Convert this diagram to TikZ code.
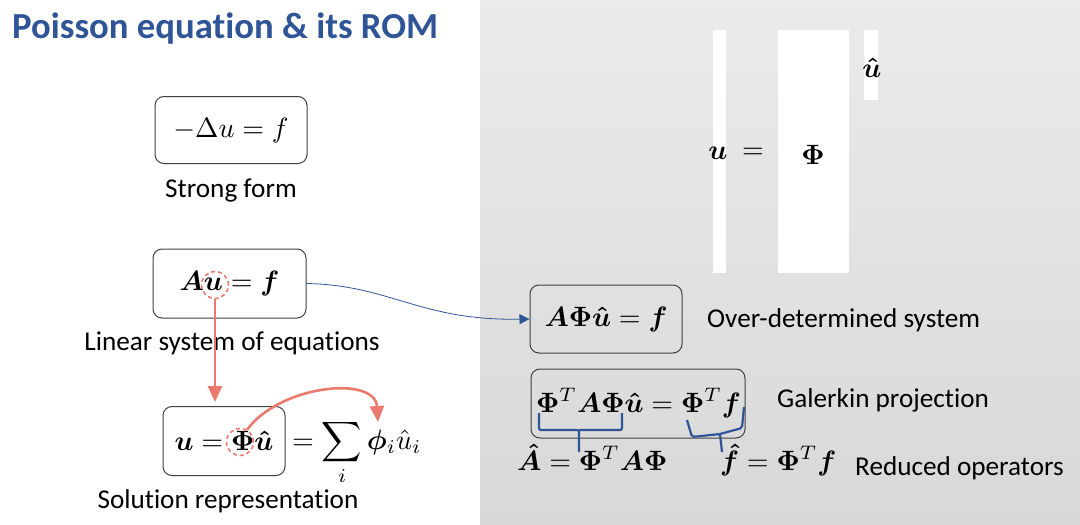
\documentclass[tikz,border=0pt]{standalone}
\usepackage{amsmath}
\usepackage{bm}
\usepackage{graphicx}
\usepackage[no-math]{fontspec}
\setmainfont{Carlito}[Ligatures=NoCommon]
\usetikzlibrary{arrows.meta}
\definecolor{romblue}{HTML}{2F5597}
\definecolor{romred}{HTML}{EB7A6E}
\definecolor{romgray}{HTML}{404040}
\definecolor{paneltop}{HTML}{EBEBEB}
\definecolor{panelbot}{HTML}{D8D8D8}
\newcommand{\eqs}[1]{\scalebox{2.8}{$#1$}}
\newcommand{\txtsize}{\fontsize{27.2}{32}\selectfont}
\tikzset{
  eqbox/.style   ={rectangle, rounded corners=9pt, draw=romgray, line width=1pt, inner sep=0pt},
  eqtxt/.style   ={inner sep=0pt},
  txt/.style     ={font=\txtsize, inner sep=0pt},
  col/.style     ={rectangle, fill=white, inner sep=0pt},
  hilite/.style  ={circle, draw=romred, dash pattern=on 4pt off 3pt, line width=1.6pt,
                   minimum size=27pt, inner sep=0pt},
  redflow/.style ={-{Triangle[length=16pt, width=14pt]}, draw=romred, line width=2.6pt},
  blueflow/.style={-{Triangle[length=10pt, width=10pt]}, draw=romblue, line width=0.8pt},
  bracket/.style ={draw=romblue, line width=2.2pt, rounded corners=2pt},
}

\begin{document}
\begin{tikzpicture}[x=1pt, y=-1pt]
  \useasboundingbox (0,0) rectangle (1080,525);
  \shade[top color=paneltop, bottom color=panelbot] (480,0) rectangle (1080,525);
  \node[anchor=base west, inner sep=0pt, text=romblue, font=\fontsize{36.7}{40}\selectfont\bfseries]
       (title) at (12,38) {Poisson equation \& its ROM};

  \node[eqbox, fill=white, minimum width=152pt, minimum height=67pt] (strong) at (231,130) {\eqs{-\Delta u = f}};
  \node[txt, anchor=base] (strongl) at (231,197) {Strong form};
  \node[eqbox, fill=white, minimum width=153pt, minimum height=69pt] (lin) at (229.5,283.5) {\eqs{\bm{A}\bm{u} = \bm{f}}};
  \node[txt, anchor=base] (linl) at (232,350) {Linear system of equations};
  \node[hilite] (uc) at (215,285) {};
  \node[eqbox, fill=white, minimum width=122pt, minimum height=69pt] (sol) at (224,441) {\eqs{\bm{u} = \bm{\Phi}\bm{\hat{u}}}};
  \node[eqtxt, anchor=base west] (sum) at (292,449) {\eqs{\displaystyle = \sum_i \bm{\phi}_i \hat{u}_i}};
  \node[hilite] (phc) at (240,442) {};
  \node[txt, anchor=base] (soll) at (228,508) {Solution representation};
  \coordinate (phitip) at (378,422);
  \draw[redflow, shorten >=4pt] (uc.south) -- (uc.south |- sol.north);
  \draw[redflow] (phc.60) .. controls (280,385) and (375,375) .. (phitip);

  \node[col, minimum width=13pt, minimum height=243pt] (uvec) at (719.5,151.5) {};
  \node[col, minimum width=71pt, minimum height=243pt] (phim) at (813.5,151.5) {};
  \node[col, minimum width=14pt, minimum height=70pt]  (uhv)  at (871,65) {};
  \node[eqtxt] (ul)   at (718,153) {\eqs{\bm{u}}};
  \node[eqtxt] (eql)  at (753,153) {\eqs{=}};
  \node[eqtxt] (phil) at (813,155) {\eqs{\bm{\Phi}}};
  \node[eqtxt] (uhl)  at (872,68)  {\eqs{\bm{\hat{u}}}};

  \node[eqbox, minimum width=152pt, minimum height=68pt] (over) at (606,319) {\eqs{\bm{A}\bm{\Phi}\bm{\hat{u}} = \bm{f}}};
  \node[txt, anchor=base west] (overl) at (707,327) {Over-determined system};
  \node[eqbox, minimum width=214pt, minimum height=69pt] (gal) at (638,403.5) {};
  \node[eqtxt, anchor=base] (galeq) at (638.5,412) {\eqs{\bm{\Phi}^T\bm{A}\bm{\Phi}\bm{\hat{u}} = \bm{\Phi}^T\bm{f}}};
  \node[txt, anchor=base west] (gall) at (777,407) {Galerkin projection};
  \node[eqtxt, anchor=base west] (ahat) at (517,470) {\eqs{\bm{\hat{A}} = \bm{\Phi}^T\bm{A}\bm{\Phi}}};
  \node[eqtxt, anchor=base west] (fhat) at (720,470) {\eqs{\bm{\hat{f}} = \bm{\Phi}^T\bm{f}}};
  \node[txt, anchor=base west] (redl) at (855,475) {Reduced operators};

  \draw[blueflow] (lin.east) .. controls (390,285) and (420,321) .. (over.west);
  \draw[bracket] (539,413) |- (579,430) -- (579,452) (579,430) -| (622,413);
  \draw[bracket] (687,420) -- (692,437) -- (720,434) -- (722,452) (720,434) -- (742,428) -- (744,407);
\end{tikzpicture}
\end{document}
